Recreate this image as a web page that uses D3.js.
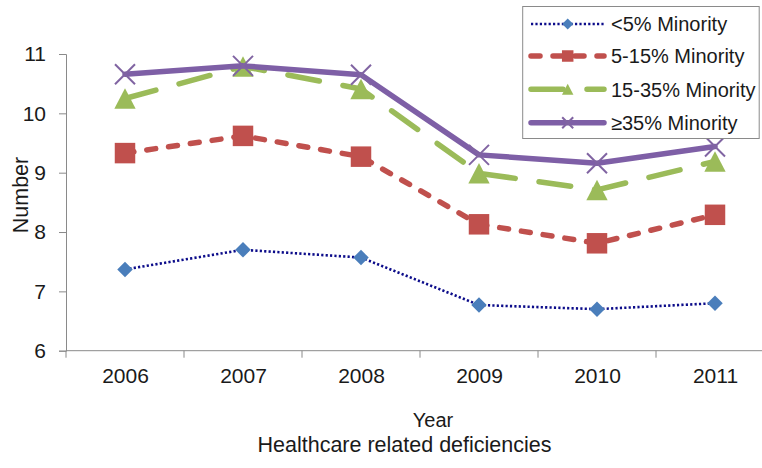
<!DOCTYPE html>
<html><head><meta charset="utf-8">
<script src="https://cdn.jsdelivr.net/npm/d3@7"></script>
<style>
html,body{margin:0;padding:0;background:#fff;}
svg{display:block;font-family:"Liberation Sans",Arial,Helvetica,sans-serif;}
</style></head>
<body>
<svg id="chart" width="762" height="468"></svg>
<script>
const years = ["2006","2007","2008","2009","2010","2011"];
const seriesNames = ["<5% Minority","5-15% Minority","15-35% Minority","≥35% Minority"];
const lt5 = [7.37, 7.70, 7.57, 6.77, 6.70, 6.80];
const m5to15 = [9.33, 9.62, 9.27, 8.13, 7.81, 8.29];
const m15to35 = [10.25, 10.79, 10.41, 8.99, 8.71, 9.19];
const ge35 = [10.66, 10.80, 10.65, 9.30, 9.16, 9.44];
const yTicks = [6, 7, 8, 9, 10, 11];

const styles = [
  {line:"#0c0c8a", width:2.6, dash:"2.2 2.2", cap:"butt", marker:"diamond", fill:"#4a7ebb"},
  {line:"#c0504d", width:5.5, dash:"9 13", cap:"round", marker:"square", fill:"#c0504d"},
  {line:"#9bbb59", width:5.5, dash:"32 24", cap:"round", marker:"triangle", fill:"#9bbb59"},
  {line:"#7e5fa6", width:5.5, dash:null, cap:"round", marker:"x", fill:"#8064a2"}
];
const data = [lt5, m5to15, m15to35, ge35];

const svg = d3.select("#chart");
const x = d3.scalePoint().domain(years).range([66, 774]).padding(0.5);
const y = d3.scaleLinear().domain([6, 11]).range([350.7, 54]);
const axisColor = "#8a8a8a";
const textColor = "#1a1a1a";

// y axis
const yAxis = svg.append("g").attr("transform","translate(66,0)")
  .call(d3.axisLeft(y).tickValues(yTicks).tickSize(7).tickPadding(13).tickFormat(d3.format("d")));
yAxis.select(".domain").attr("stroke", axisColor);
yAxis.selectAll(".tick line").attr("stroke", axisColor);
yAxis.selectAll("text").attr("font-size", 21).attr("fill", textColor)
  .attr("font-family","Liberation Sans, Arial, sans-serif");

// x axis
const xAxis = svg.append("g").attr("transform","translate(0,350.7)")
  .call(d3.axisBottom(x).tickSize(0).tickPadding(17.5));
xAxis.select(".domain").remove();
xAxis.selectAll("text").attr("font-size", 21).attr("fill", textColor)
  .attr("font-family","Liberation Sans, Arial, sans-serif");
const step = x.step();
const bounds = years.map(d => x(d) - step/2).concat([x(years[years.length-1]) + step/2]);
svg.append("line").attr("x1", bounds[0]).attr("x2", bounds[bounds.length-1])
  .attr("y1", y(6)).attr("y2", y(6)).attr("stroke", axisColor);
svg.append("g").selectAll("line").data(bounds).join("line")
  .attr("x1", d => d).attr("x2", d => d)
  .attr("y1", y(6)).attr("y2", y(6) + 7).attr("stroke", axisColor);

// axis titles
svg.append("text").attr("x", 433).attr("y", 426.7).attr("text-anchor","middle")
  .attr("font-size", 20).attr("fill", textColor).text("Year");
svg.append("text").attr("x", 404.5).attr("y", 451.7).attr("text-anchor","middle")
  .attr("font-size", 21.5).attr("fill", textColor).text("Healthcare related deficiencies");
svg.append("text").attr("transform","translate(28.3,195) rotate(-90)").attr("text-anchor","middle")
  .attr("font-size", 21.5).attr("fill", textColor).text("Number");

function markerPath(type, s) {
  const h = s/2;
  if (type === "diamond") return `M0,${-h}L${h},0L0,${h}L${-h},0Z`;
  if (type === "square") return `M${-h},${-h}H${h}V${h}H${-h}Z`;
  if (type === "triangle") return `M0,${-h}L${h*1.04},${h}L${-h*1.04},${h}Z`;
  return `M${-h},${-h}L${h},${h}M${-h},${h}L${h},${-h}`;
}
const markerSize = {diamond:15.5, square:20.5, triangle:20.5, x:20};
const legendMarkerSize = {diamond:11, square:11.5, triangle:11, x:11};

function drawMarker(g, type, fill, s) {
  const p = g.append("path").attr("d", markerPath(type, s));
  if (type === "x") p.attr("fill","none").attr("stroke", fill).attr("stroke-width", 2);
  else p.attr("fill", fill);
}

const line = d3.line().x((d,i) => x(years[i])).y(d => y(d));
data.forEach((vals, k) => {
  const st = styles[k];
  svg.append("path").datum(vals).attr("d", line)
    .attr("fill","none").attr("stroke", st.line).attr("stroke-width", st.width)
    .attr("stroke-linecap", st.cap).attr("stroke-linejoin","round")
    .attr("stroke-dasharray", st.dash);
  vals.forEach((v, i) => {
    const g = svg.append("g").attr("transform", `translate(${x(years[i])},${y(v)})`);
    drawMarker(g, st.marker, st.fill, markerSize[st.marker]);
  });
});

// legend
const lg = svg.append("g");
lg.append("rect").attr("x", 522.7).attr("y", 6.5).attr("width", 236.5).attr("height", 132)
  .attr("fill","#fff").attr("stroke","#8a8a8a").attr("stroke-width",1);
const rowY = [24, 56, 89.3, 122.7];
seriesNames.forEach((name, k) => {
  const st = styles[k];
  lg.append("line").attr("x1", 531).attr("x2", 604).attr("y1", rowY[k]).attr("y2", rowY[k])
    .attr("stroke", st.line).attr("stroke-width", st.width)
    .attr("stroke-linecap", st.cap).attr("stroke-dasharray", st.dash);
  const g = lg.append("g").attr("transform", `translate(567.7,${rowY[k]})`);
  drawMarker(g, st.marker, st.fill, legendMarkerSize[st.marker]);
  lg.append("text").attr("x", 611).attr("y", rowY[k]).attr("dy","0.36em")
    .attr("font-size", 20).attr("fill", textColor).text(name);
});
</script>
</body></html>
